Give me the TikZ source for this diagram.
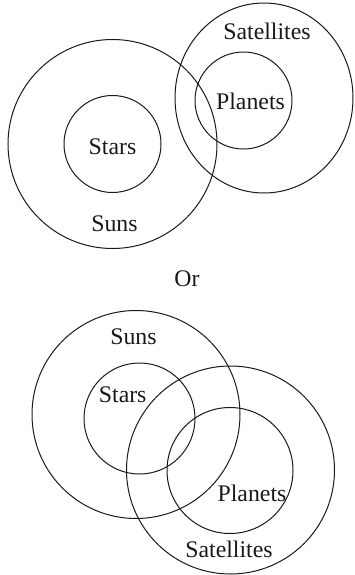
\documentclass[tikz,border=0pt]{standalone}
\usepackage{fontspec}
\setmainfont{Liberation Serif}
\usetikzlibrary{shapes.geometric}
\begin{document}
\begin{tikzpicture}[x=1pt,y=-1pt,
  ring/.style={draw=black!90,line width=1pt,circle,inner sep=0pt},
  oval/.style={draw=black!90,line width=1pt,ellipse,inner sep=0pt},
  lbl/.style={anchor=base,inner sep=0pt,font=\fontsize{23.8}{28}\selectfont,text=black!90}]
\useasboundingbox (0,0) rectangle (354,575);
% top diagram
\node[ring,minimum size=209pt] (sunsA) at (112.5,144) {};
\node[ring,minimum size=97pt] (starsA) at (112.5,144) {};
\node[oval,minimum width=178pt,minimum height=190pt] (satA) at (264,98) {};
\node[ring,minimum size=97pt] (planA) at (243.5,100.5) {};
\node[lbl] (tSatA) at (267,40) {Satellites};
\node[lbl] (tPlanA) at (250.5,110) {Planets};
\node[lbl] (tStarsA) at (112.5,154) {Stars};
\node[lbl] (tSunsA) at (114.5,231) {Suns};
% separator
\node[lbl] (tOr) at (187,286.5) {Or};
% bottom diagram
\node[ring,minimum size=208pt] (sunsB) at (136,414.5) {};
\node[ring,minimum size=111pt] (starsB) at (139.5,418.5) {};
\node[ring,minimum size=208pt] (satB) at (230.5,470) {};
\node[ring,minimum size=126pt] (planB) at (230,470.5) {};
\node[lbl] (tSunsB) at (133.5,344) {Suns};
\node[lbl] (tStarsB) at (122.7,402) {Stars};
\node[lbl] (tPlanB) at (252,501) {Planets};
\node[lbl] (tSatB) at (229,557) {Satellites};
\end{tikzpicture}
\end{document}
